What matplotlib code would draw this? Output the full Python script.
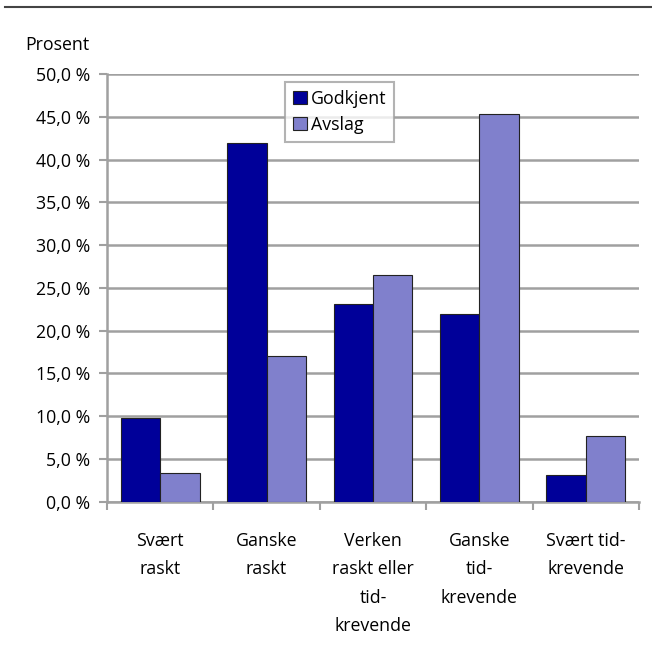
import matplotlib
matplotlib.use("Agg")
import matplotlib.pyplot as plt
import numpy as np
from matplotlib.lines import Line2D

categories = ["Svært\nraskt", "Ganske\nraskt", "Verken\nraskt eller\ntid-\nkrevende",
              "Ganske\ntid-\nkrevende", "Svært tid-\nkrevende"]
godkjent = [9.8, 42.0, 23.1, 21.9, 3.1]
avslag = [3.4, 17.1, 26.5, 45.3, 7.7]
series_names = ["Godkjent", "Avslag"]
yticks = [0, 5, 10, 15, 20, 25, 30, 35, 40, 45, 50]
ytick_labels = [f"{v:.1f} %".replace(".", ",") for v in yticks]

plt.rcParams['font.family'] = ['Open Sans', 'DejaVu Sans']
FS = 12.8

fig = plt.figure(figsize=(6.52, 6.50), dpi=100)
ax = fig.add_axes([0.164, 0.228, 0.816, 0.658])

x = np.arange(len(categories))
w = 0.37
ax.bar(x - w/2, godkjent, w, color="#000099", edgecolor="#222222", linewidth=0.8,
       label=series_names[0], zorder=3)
ax.bar(x + w/2, avslag, w, color="#8080CC", edgecolor="#222222", linewidth=0.8,
       label=series_names[1], zorder=3)

ax.set_xlim(-0.5, len(categories) - 0.5)
ax.set_ylim(0, 50)
ax.set_yticks(yticks)
ax.set_yticklabels(ytick_labels, fontsize=FS)
ax.yaxis.grid(True, color="#a0a0a0", linewidth=1.8, zorder=0)
ax.set_axisbelow(True)

ax.set_xticks(x)
ax.set_xticklabels(categories, fontsize=FS, linespacing=1.72)
ax.tick_params(axis='x', length=0, pad=22)
# category boundary ticks
ax.set_xticks(np.arange(-0.5, len(categories)), minor=True)
ax.tick_params(axis='x', which='minor', length=6, width=1.5, color="#a0a0a0")
ax.tick_params(axis='y', length=6, width=1.5, color="#a0a0a0", pad=6)

for s in ["top", "right"]:
    ax.spines[s].set_visible(False)
for s in ["left", "bottom"]:
    ax.spines[s].set_color("#a0a0a0")
    ax.spines[s].set_linewidth(1.8)

leg = ax.legend(loc="upper left", bbox_to_anchor=(0.335, 0.982), fontsize=FS,
                frameon=True, fancybox=False, edgecolor="#a0a0a0",
                handlelength=0.8, handleheight=0.8, handletextpad=0.2,
                borderpad=0.45, labelspacing=0.45, borderaxespad=0)
leg.get_frame().set_linewidth(1.5)

fig.text(25/652, 1 - 45/650, "Prosent", fontsize=FS, va="center", ha="left")
fig.add_artist(Line2D([5/652, 1.0], [1 - 7/650, 1 - 7/650], color="#444444", linewidth=1.5))

fig.savefig("out.png", dpi=100)
